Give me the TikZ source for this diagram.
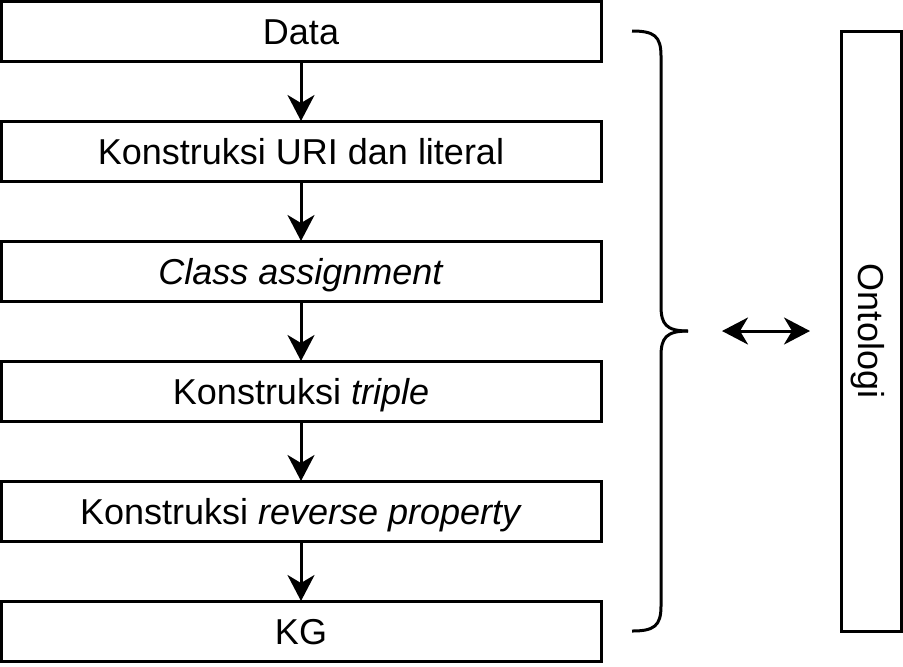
\documentclass[tikz,border=0pt]{standalone}
\usepackage{fontspec}
\setmainfont{Liberation Sans}
\usetikzlibrary{positioning,arrows.meta}

\begin{document}
\begin{tikzpicture}[x=0.5pt, y=-0.5pt,
	stepbox/.style={draw, line width=1.5pt, minimum width=300pt, minimum height=30pt, outer sep=0pt, inner sep=0pt,
		text height=13pt, text depth=-1.5pt, font=\fontsize{18}{22}\selectfont},
	ontobox/.style={stepbox, rotate=-90},
	flow/.style={line width=1.5pt, -{Stealth[length=13pt, width=13.5pt, inset=4pt]}},
	both/.style={line width=1.5pt, {Stealth[length=13pt, width=13.5pt, inset=4pt]}-{Stealth[length=13pt, width=13.5pt, inset=4pt]}}]
			%%%%% START %%%%%
			\useasboundingbox (0,0) rectangle (903,666);
			
			\node[stepbox] (data) at (301, 31) {Data};
			\node[stepbox, below=30pt of data] (uri) {Konstruksi URI dan literal};
			\node[stepbox, below=30pt of uri] (cls) {\textit{Class assignment}};
			\node[stepbox, below=30pt of cls] (triple) {Konstruksi \textit{triple}};
			\node[stepbox, below=30pt of triple] (rev) {Konstruksi \textit{reverse property}};
			\node[stepbox, below=30pt of rev] (kg) {KG};
			
			\draw[flow] (data) -- (uri);
			\draw[flow] (uri) -- (cls);
			\draw[flow] (cls) -- (triple);
			\draw[flow] (triple) -- (rev);
			\draw[flow] (rev) -- (kg);
			
			% brace
			\coordinate (btip) at (688, 331);
			\draw[line width=1.5pt] (632, 31) .. controls (654, 31) and (661, 36) .. (661, 56) -- (661, 306)
				.. controls (661, 324) and (666, 331) .. (btip);
			\draw[line width=1.5pt] (632, 631) .. controls (654, 631) and (661, 626) .. (661, 606) -- (661, 356)
				.. controls (661, 338) and (666, 331) .. (btip);
			
			\node[ontobox] (onto) at (871, 331) {Ontologi};
			\coordinate (ontoin) at (810, 331);
			\draw[both] ([xshift=17pt]btip) -- (ontoin);
			
			%%%%% END %%%%%
\end{tikzpicture}
\end{document}
